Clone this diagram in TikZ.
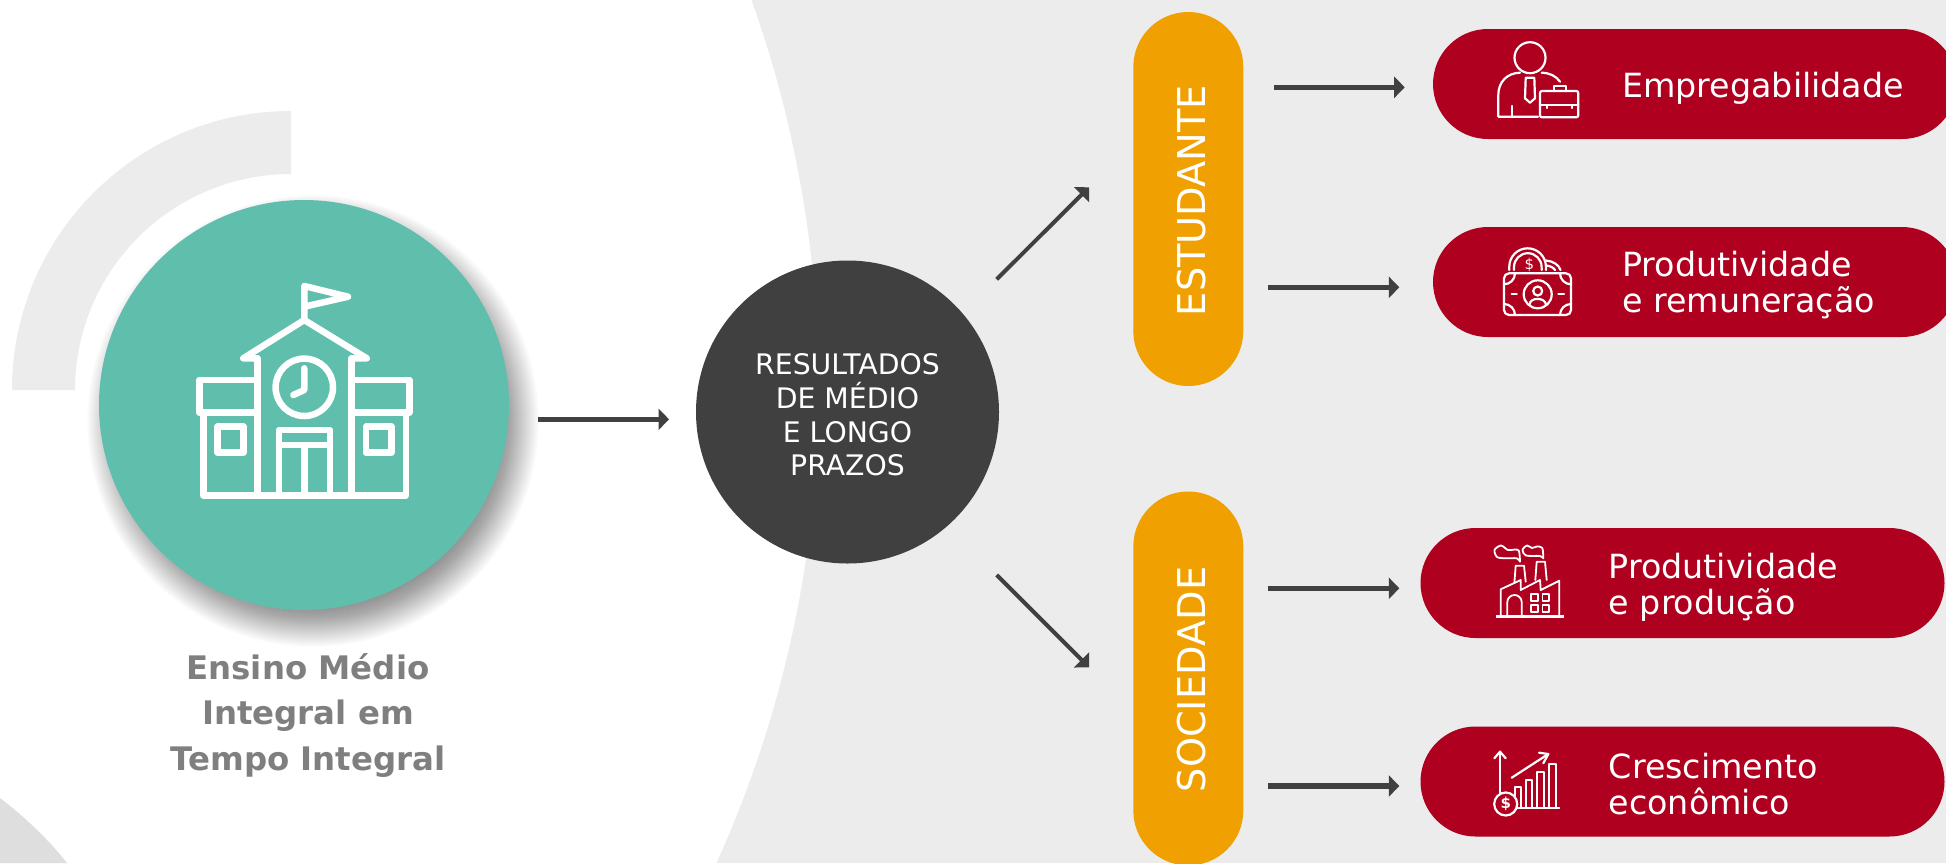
\documentclass[tikz,border=0pt]{standalone}
\usepackage{fontspec}
\usepackage{xcolor}
\setmainfont{DejaVu Sans}
\usetikzlibrary{arrows.meta}
\definecolor{panelgray}{HTML}{ECECEC}
\definecolor{cornergray}{HTML}{DEDEDE}
\definecolor{schoolteal}{HTML}{60BFAC}
\definecolor{resultsdark}{HTML}{404040}
\definecolor{groupamber}{HTML}{F0A000}
\definecolor{outcomered}{HTML}{AF0020}
\definecolor{captiongray}{HTML}{7F7F7F}
\tikzset{
  groupbox/.style={fill=groupamber, minimum width=110pt, minimum height=374pt, rounded corners=55pt, inner sep=0pt},
  outcomebox/.style={fill=outcomered, minimum width=524pt, minimum height=110pt, rounded corners=55pt, inner sep=0pt},
  grouptext/.style={anchor=base, rotate=90, text=white, inner sep=0pt, font=\fontsize{38.3}{42}\selectfont},
  outcometext/.style={anchor=base west, align=left, text=white, inner sep=0pt, font=\fontsize{33.3}{36}\selectfont},
  flowarrow/.style={draw=resultsdark, line width=5.3pt, -{Triangle[length=10.5pt,width=21pt]}},
  slantarrow/.style={draw=resultsdark, line width=4pt, -{Triangle[length=10.5pt,width=21pt]}},
  schoolline/.style={draw=white, line width=6.5pt, line cap=round, line join=round},
  iconline/.style={draw=white, line width=2.2pt, line cap=round, line join=round},
  thinline/.style={draw=white, line width=1.8pt, line cap=round, line join=round}
}

\begin{document}
\begin{tikzpicture}[x=1pt, y=-1pt]
  \useasboundingbox (0,0) rectangle (1946,863);
  \clip (0,0) rectangle (1946,863);

  % === BACKGROUND ===
  \fill[panelgray] (0,0) rectangle (1946,863);
  \fill[white] (-332.5,388.3) circle (1151);
  \fill[cornergray] (0,798) .. controls (25,817) and (48,839) .. (67,863) -- (0,863) -- cycle;
  \fill[panelgray] (12,390) arc (180:270:279) -- (291,174) arc (270:180:216) -- cycle;

  % === SCHOOL CIRCLE ===
  \foreach \shadowr in {184,185,...,226} {
    \fill[black, opacity=0.012] (313,421) circle (\shadowr);
  }
  \node[circle, fill=schoolteal, minimum size=410pt, inner sep=0pt] (school) at (304,405) {};

  % School building
  \draw[schoolline] (304.3,320) -- (304.3,286) -- (348,296.7) -- (304.3,306.7);
  \draw[schoolline] (257.3,358.3) -- (243.3,358.3) -- (304.3,320) -- (366.7,358.3) -- (351.7,358.3);
  \draw[schoolline] (257.3,358.3) -- (257.3,495.5);
  \draw[schoolline] (351.7,358.3) -- (351.7,495.5);
  \draw[schoolline] (257.3,380) -- (199.3,380) -- (199.3,412.7) -- (257.3,412.7);
  \draw[schoolline] (351.7,380) -- (409.3,380) -- (409.3,412.7) -- (351.7,412.7);
  \draw[schoolline] (203.3,412.7) -- (203.3,495.5) -- (406,495.5) -- (406,412.7);
  \draw[schoolline] (217.7,426.7) rectangle (243.3,452.7);
  \draw[schoolline] (366,426.7) rectangle (391.3,452.7);
  \draw[schoolline] (304.3,387.3) circle (28.7);
  \draw[schoolline] (304.3,368.3) -- (304.3,390) -- (293.3,395);
  \draw[schoolline] (279,495.5) -- (279,430) -- (330,430) -- (330,495.5);
  \draw[schoolline] (279,445) -- (330,445);
  \draw[schoolline] (304.3,445) -- (304.3,495.5);

  \node[align=center, inner sep=0pt, anchor=base, text=captiongray, font=\bfseries\fontsize{32.4}{45.5}\selectfont] (caption) at (308,770) {Ensino Médio\\Integral em\\Tempo Integral};

  % === RESULTS CIRCLE ===
  \node[circle, fill=resultsdark, minimum size=303pt, inner sep=0pt] (results) at (847.5,412) {};
  \node[align=center, inner sep=0pt, anchor=base, text=white, font=\fontsize{28.3}{33.6}\selectfont] (resultstext) at (847.5,475.7) {RESULTADOS\\DE MÉDIO\\E LONGO\\PRAZOS};

  % === GROUPS ===
  \node[groupbox] (student) at (1188.3,199) {};
  \node[grouptext] (studenttext) at (1205.7,200.5) {ESTUDANTE};
  \node[groupbox] (society) at (1188.3,678.5) {};
  \node[grouptext] (societytext) at (1205.7,679.5) {SOCIEDADE};

  % === OUTCOMES ===
  \node[outcomebox] (employ) at (1695,84) {};
  \node[outcometext] (employtext) at (1622,97.3) {Empregabilidade};
  \node[outcomebox] (income) at (1695,282) {};
  \node[outcometext] (incometext) at (1622,312.7) {Produtividade\\e remuneração};
  \node[outcomebox] (output) at (1682.5,583) {};
  \node[outcometext] (outputtext) at (1608.6,614) {Produtividade\\e produção};
  \node[outcomebox] (growth) at (1682.5,781.5) {};
  \node[outcometext] (growthtext) at (1608.6,814.3) {Crescimento\\econômico};

  % === ARROWS ===
  \coordinate (schoolout) at (537.9,419.3);
  \coordinate (resultsin) at (669,419.3);
  \coordinate (resultsup) at (996.7,279.3);
  \coordinate (studentin) at (1089,187.3);
  \coordinate (resultsdown) at (996.7,575);
  \coordinate (societyin) at (1089,667.3);
  \coordinate (studentoutA) at (1274,87.3);
  \coordinate (employin) at (1404.7,87.3);
  \coordinate (studentoutB) at (1268,287.3);
  \coordinate (incomein) at (1399.3,287.3);
  \coordinate (societyoutA) at (1268,588.3);
  \coordinate (outputin) at (1399.3,588.3);
  \coordinate (societyoutB) at (1268,786);
  \coordinate (growthin) at (1399.3,786);
  \draw[flowarrow] (schoolout) -- (resultsin);
  \draw[slantarrow] (resultsup) -- (studentin);
  \draw[slantarrow] (resultsdown) -- (societyin);
  \draw[flowarrow] (studentoutA) -- (employin);
  \draw[flowarrow] (studentoutB) -- (incomein);
  \draw[flowarrow] (societyoutA) -- (outputin);
  \draw[flowarrow] (societyoutB) -- (growthin);

  % === ICON - person with briefcase ===
  \draw[iconline] (1530,57.7) circle (15.5);
  \draw[iconline] (1520,72.7) .. controls (1507,73) and (1498.3,82) .. (1498.3,95) -- (1498.3,116.7) -- (1538,116.7);
  \draw[iconline] (1511.7,106) -- (1511.7,116.7);
  \draw[iconline] (1541.7,72.7) .. controls (1550,73) and (1556,76) .. (1560,81.7);
  \draw[iconline] (1525.7,77.7) -- (1534.3,77.7) -- (1535,98.3) -- (1530,102.7) -- (1525,98.3) -- cycle;
  \draw[iconline, rounded corners=2pt] (1540,91) rectangle (1578.3,117.3);
  \draw[iconline] (1554,91) -- (1554,86) -- (1566,86) -- (1566,91);
  \draw[iconline] (1540,105) -- (1578.3,105);
  \draw[iconline] (1546.7,105) -- (1546.7,108);
  \draw[iconline] (1571.7,105) -- (1571.7,108);

  % === ICON - banknote with coins ===
  \draw[iconline, rounded corners=5pt] (1504,273.3) rectangle (1571,315);
  \draw[iconline] (1537.7,294.3) circle (14);
  \draw[iconline] (1537.7,291) circle (4.5);
  \draw[iconline] (1529.5,304.5) .. controls (1530,297) and (1545,297) .. (1546,304.5);
  \draw[iconline] (1511.7,294.3) -- (1516.7,294.3);
  \draw[iconline] (1558.3,294.3) -- (1564,294.3);
  \draw[iconline] (1504,284.3) arc (90:0:11);
  \draw[iconline] (1560,273.3) arc (180:90:11);
  \draw[iconline] (1504,304) arc (270:360:11);
  \draw[iconline] (1571,304) arc (270:180:11);
  \draw[iconline] (1509.3,270) -- (1509.3,266.6) arc (180:360:18.3) -- (1546,270);
  \draw[iconline] (1514,270) -- (1514,267) arc (180:360:13.8) -- (1541.7,270);
  \draw[iconline] (1546,260.5) .. controls (1553,261) and (1559,265) .. (1560.5,270);
  \draw[iconline] (1546.5,265.5) .. controls (1550,266) and (1553.5,267.5) .. (1555,270);
  \node[inner sep=0pt, text=white, font=\fontsize{15}{15}\selectfont] (coinsign) at (1529.5,265) {\$};

  % === ICON - factory ===
  \draw[draw=white, line width=2.6pt] (1496,616.7) -- (1564,616.7);
  \draw[thinline] (1500.7,616.7) -- (1500.7,589.3) -- (1520.7,580) -- (1520.7,590) -- (1540,580) -- (1540.7,590) -- (1559.3,580.7) -- (1559.3,616.7);
  \draw[thinline] (1514.3,583.3) -- (1515.7,565.7) -- (1524,565.7) -- (1525.7,581.7);
  \draw[thinline] (1535.3,580) -- (1536.7,561.7) -- (1545,561.7) -- (1546.7,580);
  \draw[thinline] (1507.3,616.7) -- (1507.3,602.2) arc (180:360:7.2) -- (1521.7,616.7);
  \foreach \winx in {1531,1542.5} {
    \foreach \winy in {594.3,605.3} {
      \draw[thinline] (\winx,\winy) rectangle ++(6.7,6.7);
    }
  }
  \draw[thinline] plot[smooth] coordinates {(1520,561.7) (1519,551) (1515,549.5) (1508,550) (1501,545.5) (1494.5,550) (1497,557) (1505,558.3) (1516.7,558.3) (1520,561.7)};
  \draw[thinline] plot[smooth] coordinates {(1543.3,558.3) (1542.3,548) (1537,546.5) (1532,548) (1527,545.5) (1522.5,550) (1526,555.5) (1540,556) (1543.3,558.3)};

  % === ICON - growth chart ===
  \draw[iconline] (1500,795) -- (1500,751.7);
  \draw[iconline] (1494.3,758.3) -- (1500,751.7) -- (1505.7,758.3);
  \draw[iconline] (1511.7,777.7) -- (1548.3,754);
  \draw[iconline] (1539,752.7) -- (1548.3,754) -- (1543.3,763.3);
  \draw[thinline] (1515,807.7) -- (1515,787.3) -- (1520.7,787.3) -- (1520.7,807.7);
  \draw[thinline] (1525.7,807.7) -- (1525.7,780) -- (1532.3,780) -- (1532.3,807.7);
  \draw[thinline] (1537.3,807.7) -- (1537.3,772.3) -- (1543.7,772.3) -- (1543.7,807.7);
  \draw[thinline] (1549,807.7) -- (1549,764.3) -- (1556,764.3) -- (1556,807.7);
  \draw[thinline] (1515,807.7) -- (1559.3,807.7);
  \draw[iconline, fill=outcomered] (1505.7,804) circle (11.5);
  \node[inner sep=0pt, text=white, font=\bfseries\fontsize{15}{15}\selectfont] (chartsign) at (1505.7,804) {\$};
\end{tikzpicture}
\end{document}
